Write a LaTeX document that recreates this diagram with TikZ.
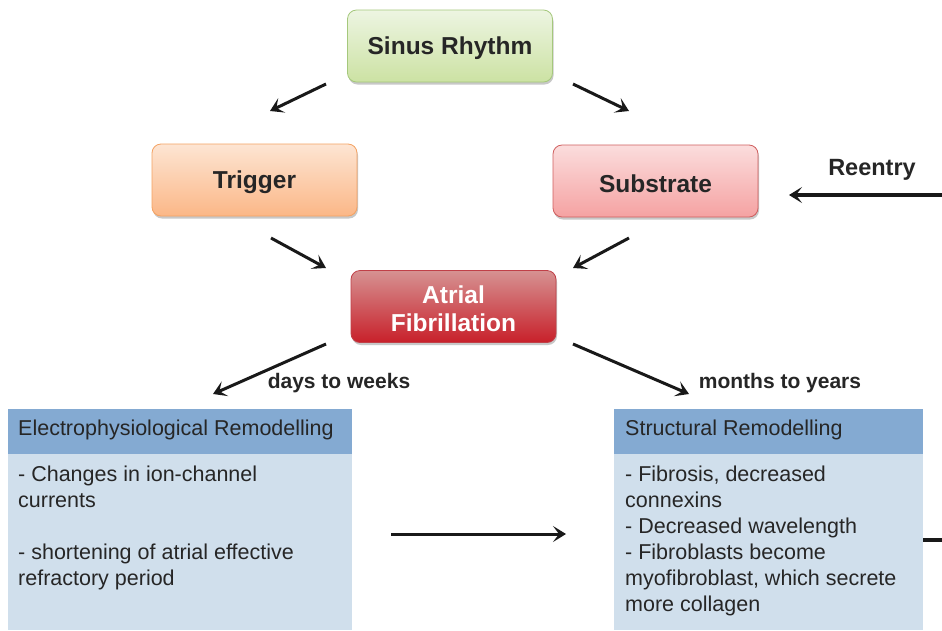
\documentclass[tikz,border=0pt]{standalone}
\usepackage{fontspec}
\setmainfont{Liberation Sans}
\usetikzlibrary{arrows.meta,shadows}
\definecolor{txt}{HTML}{262626}
\definecolor{srtop}{HTML}{EDF5E2}
\definecolor{srbot}{HTML}{CCE2A3}
\definecolor{srdraw}{HTML}{A5C87C}
\definecolor{trtop}{HTML}{FDE5D3}
\definecolor{trbot}{HTML}{FBB787}
\definecolor{trdraw}{HTML}{F4A262}
\definecolor{sbtop}{HTML}{FBDDDD}
\definecolor{sbbot}{HTML}{F5A2A2}
\definecolor{sbdraw}{HTML}{CF5E5E}
\definecolor{aftop}{HTML}{D69292}
\definecolor{afbot}{HTML}{C8202A}
\definecolor{afdraw}{HTML}{C04048}
\definecolor{hdr}{HTML}{84AAD2}
\definecolor{bdy}{HTML}{D0DFEC}
\begin{document}
\begin{tikzpicture}[x=1pt,y=-1pt,
  titlebox/.style={draw, rounded corners=9pt, line width=0.8pt,
    minimum width=205pt, minimum height=72pt, inner sep=0pt,
    font=\fontsize{24.5}{28}\selectfont\bfseries, text=txt, align=center,
    drop shadow={shadow xshift=1pt,shadow yshift=-2.5pt,opacity=0.3,fill=black!70}},
  ttext/.style={inner sep=0pt, font=\fontsize{24.5}{28.5}\selectfont\bfseries, text=txt, align=center},
  arr/.style={line width=3pt, draw=black!90,
    -{Stealth[length=13pt,width=16pt,inset=6pt]}},
  lbl/.style={font=\fontsize{21}{25}\selectfont\bfseries, text=txt, inner sep=0pt},
  hdrbox/.style={fill=hdr, draw=none, anchor=north west, minimum height=45pt, inner sep=0pt},
  bdybox/.style={fill=bdy, draw=none, anchor=north west, inner sep=0pt},
  bline/.style={anchor=base west, inner sep=0pt, text=txt, font=\fontsize{21.5}{26}\selectfont},
]
\useasboundingbox (0,0) rectangle (942,630);
\fill[white] (0,0) rectangle (942,630);

% title boxes
\node[titlebox, top color=srtop, bottom color=srbot, draw=srdraw] (sr) at (450,46) {};
\node[ttext] (srt) at (450,48) {Sinus Rhythm};
\node[titlebox, top color=trtop, bottom color=trbot, draw=trdraw] (tr) at (254.5,180) {};
\node[ttext] (trt) at (254.5,182) {Trigger};
\node[titlebox, top color=sbtop, bottom color=sbbot, draw=sbdraw] (sb) at (655.5,181) {};
\node[ttext] (sbt) at (655.5,183.5) {Substrate};
\node[titlebox, top color=aftop, bottom color=afbot, draw=afdraw] (af) at (453.5,306.5) {};
\node[ttext, text=white] (aft) at (453.5,308.5) {Atrial\\Fibrillation};

% remodelling boxes
\node[hdrbox, minimum width=344pt] (eh) at (8,409) {};
\node[bdybox, minimum width=344pt, minimum height=176pt] (eb) at (8,454) {};
\node[hdrbox, minimum width=309pt] (sh) at (614,409) {};
\node[bdybox, minimum width=309pt, minimum height=176pt] (sb2) at (614,454) {};

\node[bline] (eht) at (18,435) {Electrophysiological Remodelling};
\node[bline] (e1) at (18,481.5) {- Changes in ion-channel};
\node[bline] (e2) at (18,507.5) {currents};
\node[bline] (e3) at (18,559.5) {- shortening of atrial effective};
\node[bline] (e4) at (18,585.5) {refractory period};

\node[bline] (sht) at (625,435) {Structural Remodelling};
\node[bline] (s1) at (625,481.5) {- Fibrosis, decreased};
\node[bline] (s2) at (625,507.5) {connexins};
\node[bline] (s3) at (625,533.5) {- Decreased wavelength};
\node[bline] (s4) at (625,559.5) {- Fibroblasts become};
\node[bline] (s5) at (625,585.5) {myofibroblast, which secrete};
\node[bline] (s6) at (625,611.5) {more collagen};

% labels
\node[lbl] (dw) at (339,383.5) {days to weeks};
\node[lbl] (my) at (780,383.5) {months to years};
\node[lbl, font=\fontsize{23.5}{27}\selectfont\bfseries] (re) at (872,170) {Reentry};

% arrow endpoints
\coordinate (a1s) at (326,84);  \coordinate (a1e) at (270,111);
\coordinate (a2s) at (573,84);  \coordinate (a2e) at (629,111);
\coordinate (a3s) at (271,238); \coordinate (a3e) at (326,268);
\coordinate (a4s) at (629,238); \coordinate (a4e) at (573,268);
\coordinate (a5s) at (326,344); \coordinate (a5e) at (213,394);
\coordinate (a6s) at (573,344); \coordinate (a6e) at (689,394);
\coordinate (a7s) at (391,534); \coordinate (a7e) at (566,534);
\coordinate (res) at (942,195); \coordinate (ree) at (789,195);
\coordinate (stub) at (942,540);

\draw[arr] (a1s) -- (a1e);
\draw[arr] (a2s) -- (a2e);
\draw[arr] (a3s) -- (a3e);
\draw[arr] (a4s) -- (a4e);
\draw[arr] (a5s) -- (a5e);
\draw[arr] (a6s) -- (a6e);
\draw[arr] (a7s) -- (a7e);
\draw[arr, line width=3.6pt] (res) -- (ree);
\draw[line width=3.6pt, draw=black!90] (sb2.east |- stub) -- (stub);
\end{tikzpicture}
\end{document}
